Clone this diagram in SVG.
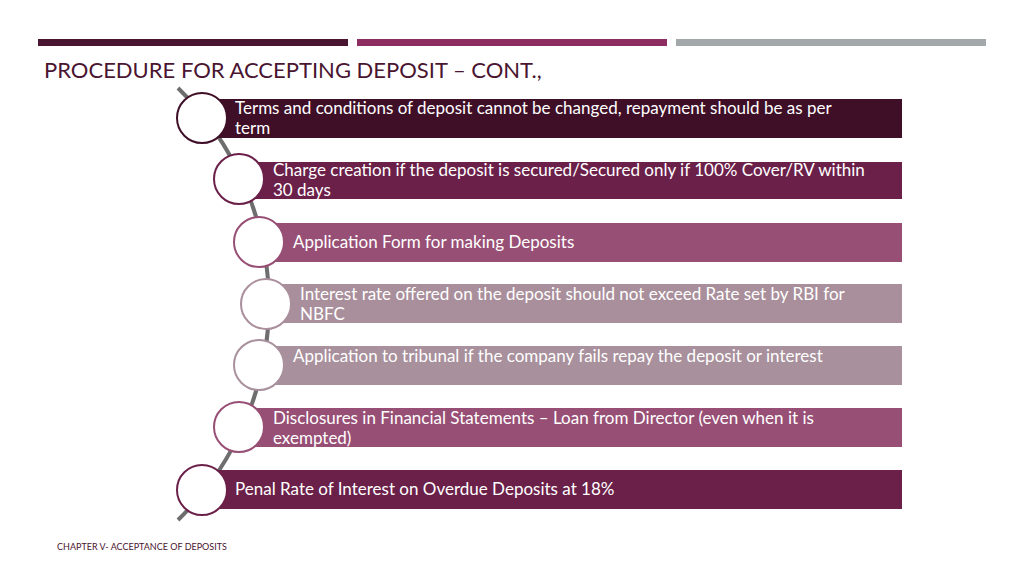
<svg xmlns="http://www.w3.org/2000/svg" width="1024" height="576" viewBox="0 0 1024 576">
<style>
.t{font-family:Lato,"Liberation Sans",sans-serif;font-size:17px;fill:#fff}
.c{fill:#fff;stroke-width:2}
</style>
<rect width="1024" height="576" fill="#fff"/>
<rect x="38" y="39" width="310" height="7" fill="#4a1530"/>
<rect x="357" y="39" width="310" height="7" fill="#8e2d62"/>
<rect x="676" y="39" width="310" height="7" fill="#a3a8ab"/>
<text x="44" y="78" font-family="Lato,'Liberation Sans',sans-serif" font-size="22" fill="#4a1530">PROCEDURE FOR ACCEPTING DEPOSIT – CONT.,</text>
<g id="connectors"><path d="M178,88 A302,302 0 0 1 178,520" fill="none" stroke="#6e6e6e" stroke-width="4"/></g>
<g id="n1"><rect x="210" y="99" width="692" height="39" fill="#3f0f28"/><circle class="c" cx="202" cy="118" r="25" stroke="#3f0f28"/><text class="t" x="235" y="114">Terms and conditions of deposit cannot be changed, repayment should be as per</text><text class="t" x="235" y="134">term</text></g>
<g id="n2"><rect x="245" y="162" width="657" height="37" fill="#6b2049"/><circle class="c" cx="239" cy="179" r="25" stroke="#6b2049"/><text class="t" x="273" y="176">Charge creation if the deposit is secured/Secured only if 100% Cover/RV within</text><text class="t" x="273" y="196">30 days</text></g>
<g id="n3"><rect x="265" y="223" width="637" height="39" fill="#984f75"/><circle class="c" cx="259" cy="242" r="25" stroke="#984f75"/><text class="t" x="293" y="248">Application Form for making Deposits</text></g>
<g id="n4"><rect x="272" y="284" width="630" height="39" fill="#a98f9b"/><circle class="c" cx="266" cy="304" r="25" stroke="#a98f9b"/><text class="t" x="300" y="300">Interest rate offered on the deposit should not exceed Rate set by RBI for</text><text class="t" x="300" y="320">NBFC</text></g>
<g id="n5"><rect x="265" y="346" width="637" height="39" fill="#a8909c"/><circle class="c" cx="259" cy="365" r="25" stroke="#a8909c"/><text class="t" x="293" y="362">Application to tribunal if the company fails repay the deposit or interest</text></g>
<g id="n6"><rect x="245" y="408" width="657" height="39" fill="#984f75"/><circle class="c" cx="239" cy="427" r="25" stroke="#984f75"/><text class="t" x="273" y="424">Disclosures in Financial Statements – Loan from Director (even when it is</text><text class="t" x="273" y="444">exempted)</text></g>
<g id="n7"><rect x="210" y="470" width="692" height="39" fill="#6b2049"/><circle class="c" cx="202" cy="490" r="25" stroke="#6b2049"/><text class="t" x="235" y="495">Penal Rate of Interest on Overdue Deposits at 18%</text></g>
<text x="57" y="550" font-family="Lato,'Liberation Sans',sans-serif" font-size="9" fill="#4a1530">CHAPTER V- ACCEPTANCE OF DEPOSITS</text>
</svg>
